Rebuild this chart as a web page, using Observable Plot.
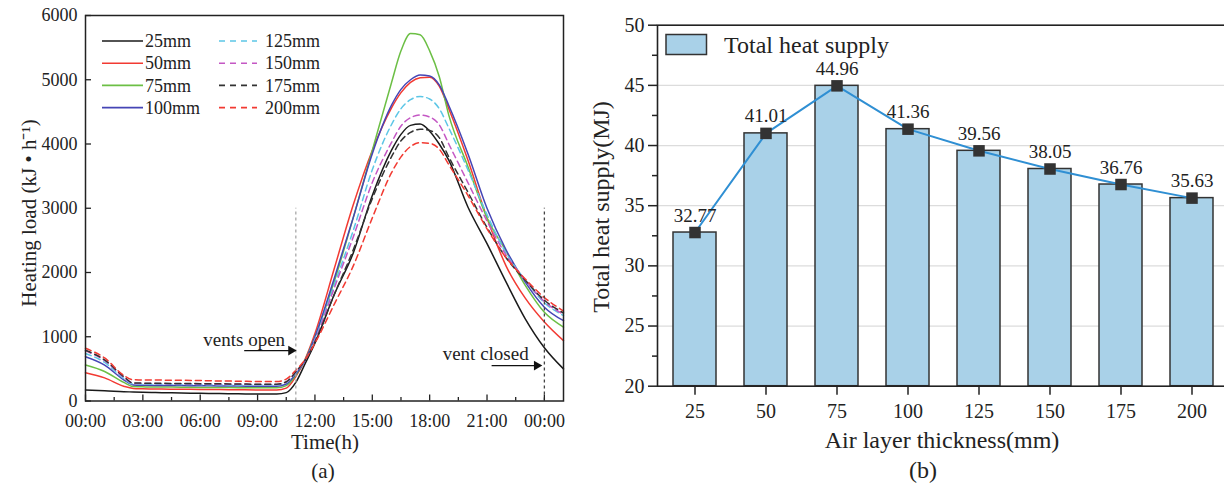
<!DOCTYPE html>
<html><head><meta charset="utf-8">
<script src="https://cdn.jsdelivr.net/npm/d3@7"></script>
<script src="https://cdn.jsdelivr.net/npm/@observablehq/plot@0.6"></script>
<style>
html,body{margin:0;padding:0;background:#fff;overflow:hidden;width:1224px;height:487px;}
#wrap{position:relative;width:1224px;height:487px;overflow:hidden;font-family:"Liberation Serif","Times New Roman",serif;color:#222;}
#wrap svg, #wrap svg text{font-family:"Liberation Serif","Times New Roman",serif !important;}
.abs{position:absolute;white-space:nowrap;}
</style></head><body><div id="wrap"></div>
<script>
// ---------- Panel (a) data ----------
const hours = [0,1,2,2.5,3,4,5,6,7,8,9,10,10.5,11,11.5,12,13,14,15,16,16.5,17,17.5,18,18.5,19,20,21,22,23,24,25];
const seriesNames = ["25mm","50mm","75mm","100mm","125mm","150mm","175mm","200mm"];
const load25  = [170,160,145,140,135,130,125,120,115,112,108,108,130,290,590,900,1650,2300,3200,3900,4150,4290,4310,4200,4000,3750,3020,2450,1850,1280,830,500];
const load50  = [440,360,230,195,190,185,182,180,178,175,172,172,200,380,660,1050,2050,3050,3900,4560,4800,4960,5030,5040,4900,4550,3750,2850,2100,1600,1230,940];
const load75  = [560,460,290,225,220,218,215,212,210,208,205,205,240,400,650,1000,1850,2850,3900,4950,5450,5720,5700,5450,5050,4450,3650,2850,2330,1800,1380,1150];
const load100 = [690,560,330,250,245,242,240,238,235,232,230,230,265,420,640,1000,1900,2850,3850,4600,4850,5000,5075,5060,4920,4600,3850,3000,2350,1850,1460,1250];
const load125 = [740,600,350,265,262,260,258,255,252,250,248,248,285,440,640,960,1800,2650,3600,4300,4550,4690,4740,4700,4550,4250,3600,2900,2300,1880,1530,1330];
const load150 = [780,630,370,275,272,270,268,265,262,260,258,258,295,450,640,940,1750,2550,3400,4020,4280,4410,4450,4420,4300,4000,3400,2800,2270,1880,1550,1350];
const load175 = [790,640,380,280,278,275,272,270,268,265,262,262,300,455,640,920,1650,2350,3150,3800,4050,4180,4230,4210,4100,3800,3250,2700,2230,1880,1570,1370];
const load200 = [820,670,400,330,328,325,322,318,312,308,304,302,340,480,650,900,1500,2100,2850,3550,3800,3960,4020,4010,3920,3680,3200,2680,2230,1900,1610,1400];
const loadSeries = [load25,load50,load75,load100,load125,load150,load175,load200];
const hourTicks = [0,3,6,9,12,15,18,21,24];
const hourTickLabels = ["00:00","03:00","06:00","09:00","12:00","15:00","18:00","21:00","00:00"];
const minorHourTicks = [1.5,4.5,7.5,10.5,13.5,16.5,19.5,22.5];
const loadTicks = [0,1000,2000,3000,4000,5000,6000];
const ventTimes = [11, 24];
const ventTop = 3000;

// ---------- Panel (b) data ----------
const thickness = ["25","50","75","100","125","150","175","200"];
const heatSupply = [32.77,41.01,44.96,41.36,39.56,38.05,36.76,35.63];
const supplyTicks = [20,25,30,35,40,45,50];
const supplyMinor = [22.5,27.5,32.5,37.5,42.5,47.5];
const supplyGrid = [25,30,35,40,45];

// ---------- styles ----------
const seriesColors = ["#1a1a1a","#f23a32","#6cbf45","#4545b5","#5cc6e6","#c457c4","#333333","#f23a32"];
const seriesDashed = [false,false,false,false,true,true,true,true];
const FONT = "Liberation Serif, Times New Roman, serif";
const wrap = document.getElementById("wrap");

const loadRows = [];
seriesNames.forEach((name, i) => loadSeries[i].forEach((v, j) => loadRows.push({series: name, t: hours[j], v})));

const notes = [
  {text: "vents open", x: 8.3, y: 950, ax1: 8.3, ax2: 10.75, ay: 785},
  {text: "vent closed", x: 20.93, y: 734, ax1: 21.24, ax2: 23.6, ay: 552}
];

const plotA = Plot.plot({
  width: 580, height: 487,
  marginLeft: 85, marginRight: 17, marginTop: 15, marginBottom: 86.5,
  style: {fontFamily: FONT, fontSize: "18px", color: "#222", background: "transparent", overflow: "visible"},
  x: {domain: [0, 25]},
  y: {domain: [0, 6000]},
  marks: [
    ...seriesNames.map((name, i) => Plot.line(loadRows.filter(d => d.series === name), {
      x: "t", y: "v", stroke: seriesColors[i], strokeWidth: 1.5,
      strokeDasharray: seriesDashed[i] ? "6,4" : null, curve: "monotone-x"
    })),
    Plot.ruleX([ventTimes[0]], {y1: 0, y2: ventTop, stroke: "#a8a8a8", strokeWidth: 1.3, strokeDasharray: "3,3"}),
    Plot.ruleX([ventTimes[1]], {y1: 0, y2: ventTop, stroke: "#444", strokeWidth: 1.3, strokeDasharray: "3,3"}),
    Plot.text(notes, {x: "x", y: "y", text: "text", fontSize: 19, fill: "#222"}),
    Plot.link(notes, {x1: "ax1", x2: "ax2", y1: "ay", y2: "ay", stroke: "#111", strokeWidth: 1.2}),
    Plot.dot(notes, {x: "ax2", y: "ay", symbol: "triangle", rotate: 90, r: 3.6, fill: "#111", stroke: null}),
    Plot.frame({stroke: "#222", strokeWidth: 1.5}),
    Plot.axisX({ticks: hourTicks, tickSize: -6, tickFormat: () => "", label: null, strokeWidth: 1.3}),
    Plot.axisX({ticks: minorHourTicks, tickSize: -3.5, tickFormat: () => "", label: null, strokeWidth: 1.3}),
    Plot.axisX({ticks: hourTicks, tickSize: 0, tickPadding: 13, tickFormat: d => hourTickLabels[hourTicks.indexOf(d)], label: null, fontSize: 18}),
    Plot.axisY({ticks: loadTicks, tickSize: -6, tickFormat: () => "", label: null, strokeWidth: 1.3}),
    Plot.axisY({ticks: loadTicks, tickSize: 0, tickPadding: 8, tickFormat: d => String(d), label: null, fontSize: 18})
  ]
});
plotA.style.position = "absolute"; plotA.style.left = "0px"; plotA.style.top = "0px";
wrap.appendChild(plotA);

const supplyRows = thickness.map((t, i) => ({t, v: heatSupply[i]}));
const plotB = Plot.plot({
  width: 660, height: 487,
  marginLeft: 77, marginRight: 11.5, marginTop: 24.7, marginBottom: 101.3,
  style: {fontFamily: FONT, fontSize: "20px", color: "#222", background: "transparent", overflow: "visible"},
  x: {type: "band", domain: thickness, paddingInner: 0.4, paddingOuter: 0.2},
  y: {domain: [20, 50]},
  marks: [
    Plot.gridY(supplyGrid, {stroke: "#dcdcdc", strokeOpacity: 1, strokeWidth: 1.2}),
    Plot.barY(supplyRows, {x: "t", y1: 20, y2: "v", fill: "#a9d1e8", stroke: "#333", strokeWidth: 1.5}),
    Plot.line(supplyRows, {x: "t", y: "v", stroke: "#2f8fd3", strokeWidth: 2}),
    Plot.dot(supplyRows, {x: "t", y: "v", symbol: "square", fill: "#333", stroke: null, r: 6.5}),
    Plot.text(supplyRows, {x: "t", y: "v", text: d => d.v.toFixed(2), dy: -17, fontSize: 19, fill: "#222"}),
    Plot.frame({stroke: "#222", strokeWidth: 1.6}),
    Plot.axisX({tickSize: 9, tickPadding: 9, label: null, fontSize: 20, strokeWidth: 1.5}),
    Plot.axisY({ticks: supplyTicks, tickSize: 9, tickPadding: 4, label: null, fontSize: 20, strokeWidth: 1.5}),
    Plot.axisY({ticks: supplyMinor, tickSize: 5, tickFormat: () => "", label: null, strokeWidth: 1.5})
  ]
});
plotB.style.position = "absolute"; plotB.style.left = "580px"; plotB.style.top = "0px";
wrap.appendChild(plotB);

// ---------- HTML text: titles, captions, legends ----------
function addText(txt, x, y, size, opts = {}) {
  const d = document.createElement("div");
  d.className = "abs";
  d.textContent = txt;
  d.style.fontSize = size + "px";
  d.style.lineHeight = "1";
  d.style.left = x + "px"; d.style.top = y + "px";
  d.style.transform = (opts.rotate ? "translate(-50%,-50%) rotate(-90deg)" : "translate(-50%,-50%)");
  wrap.appendChild(d);
  return d;
}
addText("Time(h)", 325, 442, 21);
addText("(a)", 323, 471, 21);
addText("Heating load (kJ • h⁻¹)", 29, 213, 21, {rotate: true});
addText("Air layer thickness(mm)", 942, 440, 24);
addText("(b)", 923, 470, 24);
addText("Total heat supply(MJ)", 601, 207, 24, {rotate: true});

// legend (a)
const legA = document.createElement("div");
legA.className = "abs";
legA.style.left = "0px"; legA.style.top = "0px";
let svg = `<svg width="580" height="130" style="position:absolute;left:0;top:0;overflow:visible">`;
seriesNames.forEach((name, i) => {
  const col = Math.floor(i / 4), row = i % 4;
  const cy = 41 + row * 22.2;
  const x0 = col === 0 ? 102 : 219, x1 = col === 0 ? 143 : 257, tx = col === 0 ? 145 : 265;
  svg += `<line x1="${x0}" x2="${x1}" y1="${cy}" y2="${cy}" stroke="${seriesColors[i]}" stroke-width="1.6" ${seriesDashed[i] ? 'stroke-dasharray="6,5"' : ''}/>`;
  svg += `<text x="${tx}" y="${cy}" dy="0.34em" font-size="18" fill="#222">${name}</text>`;
});
svg += `</svg>`;
legA.innerHTML = svg;
wrap.appendChild(legA);

// legend (b)
const legB = document.createElement("div");
legB.className = "abs";
legB.style.left = "0px"; legB.style.top = "0px";
legB.innerHTML = `<svg width="1224" height="80" style="position:absolute;left:0;top:0;overflow:visible">
<rect x="666" y="34.5" width="40.5" height="20" fill="#a9d1e8" stroke="#333" stroke-width="1.5"/>
<text x="724" y="45" dy="0.34em" font-size="24" fill="#222">Total heat supply</text></svg>`;
wrap.appendChild(legB);
</script></body></html>
